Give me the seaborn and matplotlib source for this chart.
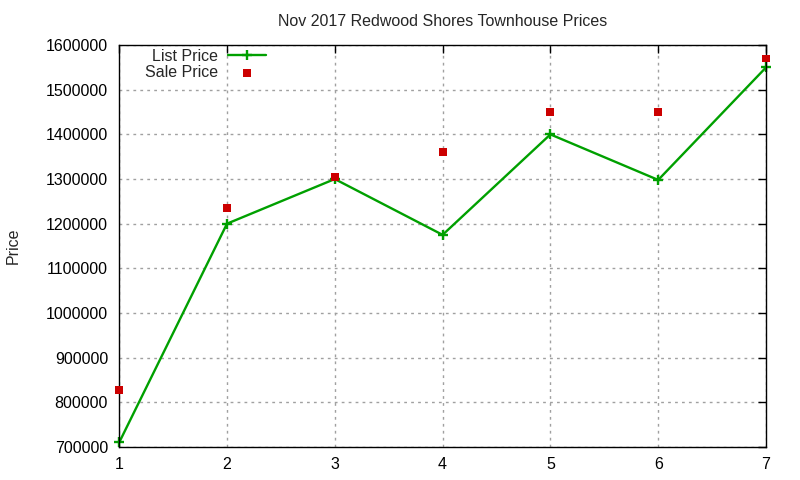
import matplotlib
matplotlib.use("Agg")
import matplotlib.pyplot as plt
import seaborn as sns
import pandas as pd

sales = [1, 2, 3, 4, 5, 6, 7]
list_price = [710000, 1200000, 1300000, 1175000, 1400000, 1298000, 1550000]
sale_price = [828000, 1235000, 1305000, 1360000, 1450000, 1450000, 1570000]
y_ticks = [700000, 800000, 900000, 1000000, 1100000, 1200000, 1300000, 1400000, 1500000, 1600000]

sns.set_style("white")
plt.rcParams['font.family'] = ['Liberation Sans', 'DejaVu Sans']

df = pd.DataFrame({"n": sales, "list": list_price, "sale": sale_price})

fig = plt.figure(figsize=(8, 4.8), dpi=100)
ax = fig.add_axes([0.149, 0.069, 0.8085, 0.837])

sns.lineplot(data=df, x="n", y="list", ax=ax, color="#00a000", linewidth=1.7,
             marker="+", markersize=7, markeredgewidth=1.7,
             markeredgecolor="#00a000", label="List Price", clip_on=False)
sns.scatterplot(data=df, x="n", y="sale", ax=ax, color="#cc0000", marker="s",
                s=32, edgecolor="none", label="Sale Price", zorder=3, clip_on=False)

ax.set_xlim(1, 7)
ax.set_ylim(700000, 1600000)
ax.set_xticks(sales)
ax.set_yticks(y_ticks)
ax.set_yticklabels([str(v) for v in y_ticks])
ax.grid(True, color="#a0a0a0", linestyle=(0, (2, 3)), linewidth=1)
for s in ax.spines.values():
    s.set_color("black")
    s.set_linewidth(1)
ax.tick_params(direction="in", length=6, width=1, top=True, right=True,
               labelsize=11.5, colors="black")
ax.tick_params(axis="y", pad=8)
ax.tick_params(axis="x", pad=7)
ax.set_xlabel("")
ax.set_ylabel("Price", fontsize=11.5, labelpad=18)
ax.set_title("Nov 2017 Redwood Shores Townhouse Prices", fontsize=11.5, pad=14)

leg = ax.legend(loc="upper left", bbox_to_anchor=(0.02, 1.022), frameon=False,
                markerfirst=False, fontsize=11.5, handlelength=2.4,
                labelspacing=0.05, handletextpad=0.6, borderpad=0.3)

fig.savefig("out.png", dpi=100)
